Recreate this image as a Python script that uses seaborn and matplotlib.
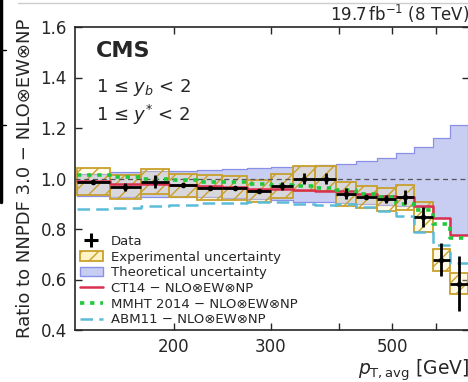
import matplotlib
matplotlib.use("Agg")
import matplotlib.pyplot as plt
import seaborn as sns
import numpy as np
import pandas as pd
from matplotlib.lines import Line2D
from matplotlib.patches import Patch

# ── bins and values (1 <= yb < 2, 1 <= y* < 2) ──
edges = [133, 153, 174, 196, 220, 245, 272, 300, 330, 362, 395, 430, 468, 507, 548, 592, 638, 686]

data = [0.988, 0.965, 0.988, 0.973, 0.963, 0.962, 0.950, 0.969, 1.000, 1.000,
        0.940, 0.927, 0.917, 0.926, 0.847, 0.678, 0.584]
stat_err = [0.005, 0.016, 0.024, 0.006, 0.006, 0.006, 0.006, 0.016, 0.022, 0.020,
            0.022, 0.008, 0.016, 0.027, 0.040, 0.065, 0.110]
exp_unc = [0.053, 0.047, 0.050, 0.045, 0.050, 0.047, 0.045, 0.048, 0.050, 0.050,
           0.047, 0.044, 0.045, 0.050, 0.060, 0.043, 0.043]

theo_up = [1.018, 1.025, 1.028, 1.030, 1.035, 1.037, 1.040, 1.047, 1.050, 1.055,
           1.059, 1.068, 1.081, 1.100, 1.125, 1.162, 1.212]
theo_dn = [0.930, 0.925, 0.925, 0.925, 0.925, 0.922, 0.918, 0.915, 0.908, 0.906,
           0.903, 0.900, 0.895, 0.893, 0.888, 0.845, 0.775]

ct14 = [0.990, 0.979, 0.980, 0.975, 0.970, 0.968, 0.958, 0.958, 0.955, 0.950,
        0.950, 0.940, 0.930, 0.928, 0.890, 0.843, 0.778]
mmht = [1.012, 1.005, 1.000, 0.993, 0.988, 0.987, 0.980, 0.975, 0.969, 0.962,
        0.953, 0.940, 0.927, 0.900, 0.875, 0.820, 0.766]
abm11 = [0.881, 0.884, 0.890, 0.897, 0.903, 0.904, 0.907, 0.907, 0.900, 0.897,
         0.900, 0.888, 0.870, 0.852, 0.790, 0.736, 0.667]

gold = "#c9a02c"
box_face = (1.0, 0.94, 0.67, 0.3)
blue_face = "#c8cdf2"
blue_edge = "#8a90e6"
red = "#d9304f"
green = "#1fc83c"
cyan = "#5bbcd8"

sns.set_style("ticks")
plt.rcParams["font.family"] = ["DejaVu Sans"]
plt.rcParams["hatch.linewidth"] = 1.0
plt.rcParams["hatch.color"] = gold

fig = plt.figure(figsize=(4.68, 3.82), dpi=100)
ax = fig.add_axes([75 / 468, 52 / 382, 394 / 468, 303 / 382])

lo = np.array(edges[:-1])
hi = np.array(edges[1:])
ctr = np.sqrt(lo * hi)

# theory band
ax.fill_between(edges, theo_dn + [theo_dn[-1]], theo_up + [theo_up[-1]], step="post",
                facecolor=blue_face, edgecolor=blue_edge, lw=0.9, zorder=1)

# experimental uncertainty boxes
d = np.array(data)
e = np.array(exp_unc)
ax.bar(lo, 2 * e, width=hi - lo, bottom=d - e, align="edge",
       facecolor=box_face, edgecolor=gold, hatch="//", lw=1.3, zorder=2)

ax.axhline(1.0, color="#555555", ls=(0, (4, 3)), lw=0.9, zorder=3)

# model curves as steps
for vals, col, ls, lw in [(ct14, red, "-", 1.8),
                          (mmht, green, (0, (1.2, 1.6)), 2.6),
                          (abm11, cyan, (0, (5, 2.5)), 1.8)]:
    df = pd.DataFrame({"x": edges, "y": vals + [vals[-1]]})
    sns.lineplot(data=df, x="x", y="y", ax=ax, color=col, lw=lw, ls=ls,
                 drawstyle="steps-post", zorder=4, legend=False)

# data
ax.errorbar(ctr, data, xerr=[ctr - lo, hi - ctr], yerr=stat_err, fmt="o", ms=3,
            color="black", elinewidth=2.0, capsize=0, zorder=5)

ax.set_xscale("log")
ax.set_xlim(132, 690)
ax.set_ylim(0.4, 1.6)
ax.set_xticks([200, 300, 400, 500, 600])
ax.set_xticklabels(["200", "300", "", "500", ""])
ax.xaxis.set_minor_locator(matplotlib.ticker.NullLocator())
ax.set_yticks(np.arange(0.4, 1.61, 0.2))
ax.set_yticklabels([f"{v:.1f}" for v in np.arange(0.4, 1.61, 0.2)])
ax.tick_params(direction="in", top=True, right=True, length=5, width=1,
               labelsize=12, pad=6)
for s in ax.spines.values():
    s.set_linewidth(1.2)

ax.set_xlabel(r"$p_{\mathrm{T,avg}}$ [GeV]", fontsize=13.5, loc="right", labelpad=1)
ax.set_ylabel("Ratio to NNPDF 3.0 − NLO⊗EW⊗NP", fontsize=13)
ax.yaxis.set_label_coords(-0.105, 0.5)

ax.text(0.053, 0.955, "CMS", transform=ax.transAxes, fontsize=16, fontweight="bold",
        ha="left", va="top")
ax.text(0.053, 0.835, "1 ≤ $y_b$ < 2\n1 ≤ $y^{*}$ < 2", transform=ax.transAxes,
        fontsize=13, ha="left", va="top", linespacing=1.25)
ax.text(1.0, 1.006, r"19.7$\,$fb$^{-1}$ (8 TeV)", transform=ax.transAxes,
        fontsize=12, ha="right", va="bottom")

handles = [
    Line2D([], [], marker="+", ms=10, mew=2.2, color="black", ls="none"),
    Patch(facecolor=(1.0, 0.92, 0.55, 0.5), edgecolor=gold, hatch="//", lw=1.3),
    Patch(facecolor=blue_face, edgecolor=blue_edge, lw=1),
    Line2D([], [], color=red, lw=1.8),
    Line2D([], [], color=green, lw=2.6, ls=(0, (1.2, 1.6))),
    Line2D([], [], color=cyan, lw=1.8, ls=(0, (5, 2.5))),
]
labels = ["Data", "Experimental uncertainty", "Theoretical uncertainty",
          "CT14 − NLO⊗EW⊗NP", "MMHT 2014 − NLO⊗EW⊗NP", "ABM11 − NLO⊗EW⊗NP"]
ax.legend(handles, labels, loc="lower left", frameon=False, fontsize=9.5,
          handlelength=1.7, handletextpad=0.6, labelspacing=0.2,
          borderaxespad=0.0, bbox_to_anchor=(0.0, -0.005))

# edge of the neighbouring panel visible at the left border
fig.add_artist(Line2D([0.003, 0.003], [1.0, 0.47], transform=fig.transFigure,
                      color="black", lw=2.5))
for yy in [50, 125]:
    fig.add_artist(Line2D([0.003, 0.012], [1 - yy / 382] * 2, transform=fig.transFigure,
                          color="black", lw=1))
fig.add_artist(Line2D([18 / 468, 1.0], [1 - 3 / 382] * 2, transform=fig.transFigure,
                      color="#cccccc", lw=1))

plt.savefig("out.png", dpi=100)
plt.close()
